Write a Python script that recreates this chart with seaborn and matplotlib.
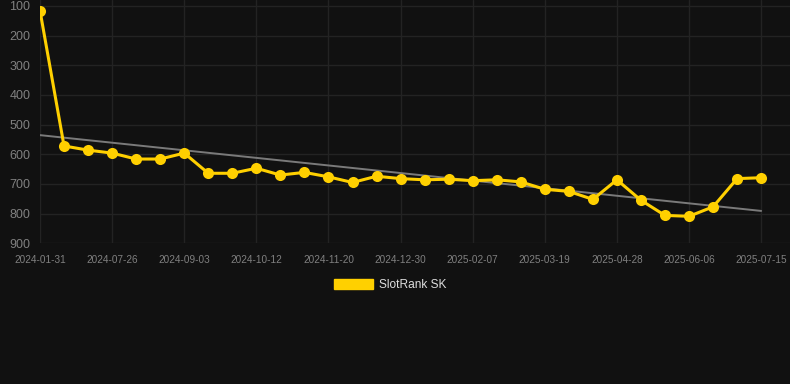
import numpy as np
import pandas as pd
import matplotlib
matplotlib.use("Agg")
import matplotlib.pyplot as plt
import seaborn as sns
from matplotlib.patches import Patch

# Rank values (lower is better, axis inverted)
ranks = [116, 572, 586, 596, 616, 616, 596, 664, 664, 647,
         670, 661, 676, 695, 674, 682, 686, 684, 689, 686,
         693, 718, 725, 752, 686, 755, 806, 809, 777, 682, 679]
tick_labels = ["2024-01-31", "2024-07-26", "2024-09-03", "2024-10-12",
               "2024-11-20", "2024-12-30", "2025-02-07", "2025-03-19",
               "2025-04-28", "2025-06-06", "2025-07-15"]
y_ticks = [100, 200, 300, 400, 500, 600, 700, 800, 900]
series_name = "SlotRank SK"

bg = "#111111"
grid_col = "#232323"
gold = "#FFD000"

sns.set_theme(style="dark")
plt.rcParams["font.family"] = ["Liberation Sans", "DejaVu Sans"]

df = pd.DataFrame({"idx": np.arange(len(ranks)), "rank": ranks})

fig = plt.figure(figsize=(7.9, 3.84), dpi=100, facecolor=bg)
ax = fig.add_axes([40 / 790, 1 - 243.3 / 384, 750 / 790, 243.3 / 384])
ax.set_facecolor(bg)

# linear trend through the points
coef = np.polyfit(df["idx"], df["rank"], 1)
ax.plot(df["idx"], np.polyval(coef, df["idx"]), color="#7a7a7a", linewidth=1.4, zorder=2)

sns.lineplot(data=df, x="idx", y="rank", ax=ax, color=gold, linewidth=2.2,
             marker="o", markersize=8, markeredgewidth=0, legend=False, zorder=3)

ax.set_xlim(0, 31.2)
ax.set_ylim(900, 80)
ax.set_yticks(y_ticks)
ax.set_xticks(np.arange(0, len(ranks), 3))
ax.set_xticklabels(tick_labels)
ax.set_xlabel("")
ax.set_ylabel("")
ax.grid(True, color=grid_col, linewidth=1)
ax.tick_params(axis="y", length=0, pad=7, labelsize=9, labelcolor="#808080")
ax.tick_params(axis="x", length=6.5, width=1, color=grid_col, pad=2,
               labelsize=7.2, labelcolor="#808080")
for s in ax.spines.values():
    s.set_visible(False)

# legend shows a filled box like the original
ax.legend(handles=[Patch(facecolor=gold, edgecolor=gold)], labels=[series_name],
          loc="center", bbox_to_anchor=(0.494, 0.258),
          bbox_transform=fig.transFigure, frameon=False,
          fontsize=8.6, labelcolor="#dddddd", handlelength=3.3,
          handleheight=1.0, handletextpad=0.5)

fig.savefig("out.png", dpi=100, facecolor=bg)
